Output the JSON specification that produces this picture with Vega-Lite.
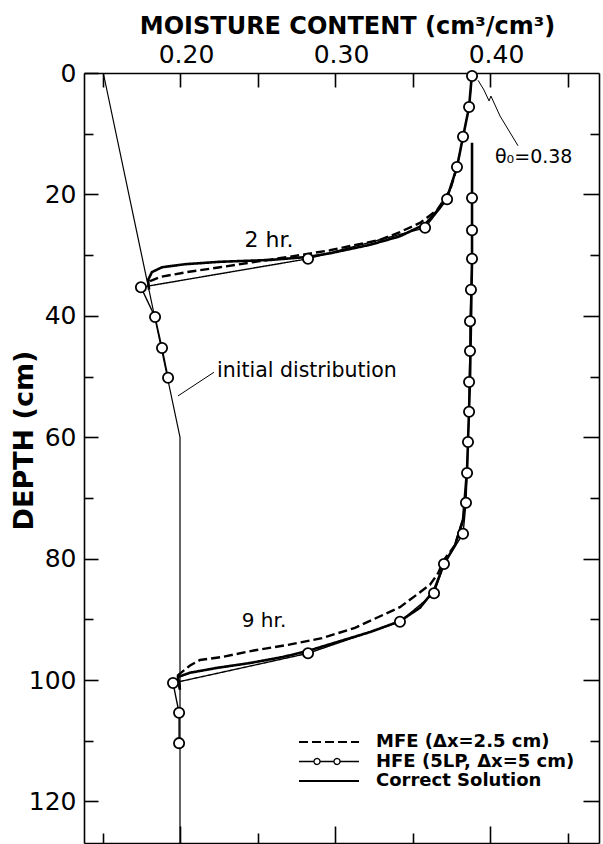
{
  "$schema": "https://vega.github.io/schema/vega-lite/v6.json",
  "width": 515,
  "height": 770,
  "autosize": "none",
  "padding": {"left": 84, "top": 73, "right": 4, "bottom": 1},
  "background": "white",
  "config": {
    "view": {"stroke": null},
    "font": "DejaVu Sans",
    "axis": {"grid": false, "domainColor": "black", "tickColor": "black", "labelColor": "black", "titleColor": "black", "domainWidth": 1.6, "tickWidth": 1.6, "labelFlush": false, "labelOverlap": false},
    "legend": {"title": null, "orient": "none", "legendX": 236, "legendY": 660, "symbolSize": 400, "symbolStrokeWidth": 2, "symbolStrokeColor": "black", "labelFont": "DejaVu Sans", "labelFontSize": 18, "labelFontWeight": "bold", "labelColor": "black", "labelOffset": 38, "labelLimit": 0, "rowPadding": 1.5}
  },
  "datasets": {
    "initial": [
      {"depth": 0, "theta": 0.1505},
      {"depth": 60, "theta": 0.2},
      {"depth": 126.85, "theta": 0.2}
    ],
    "lines": [
      {"kind": "correct", "run": "2 hr", "method": "Correct Solution", "depth": 0.0, "theta": 0.3884},
      {"kind": "correct", "run": "2 hr", "method": "Correct Solution", "depth": 5.6, "theta": 0.3865},
      {"kind": "correct", "run": "2 hr", "method": "Correct Solution", "depth": 10.5, "theta": 0.3826},
      {"kind": "correct", "run": "2 hr", "method": "Correct Solution", "depth": 15.5, "theta": 0.3787},
      {"kind": "correct", "run": "2 hr", "method": "Correct Solution", "depth": 19.6, "theta": 0.3735},
      {"kind": "correct", "run": "2 hr", "method": "Correct Solution", "depth": 22.2, "theta": 0.3677},
      {"kind": "correct", "run": "2 hr", "method": "Correct Solution", "depth": 24.9, "theta": 0.3581},
      {"kind": "correct", "run": "2 hr", "method": "Correct Solution", "depth": 26.9, "theta": 0.3419},
      {"kind": "correct", "run": "2 hr", "method": "Correct Solution", "depth": 28.3, "theta": 0.3226},
      {"kind": "correct", "run": "2 hr", "method": "Correct Solution", "depth": 29.7, "theta": 0.2968},
      {"kind": "correct", "run": "2 hr", "method": "Correct Solution", "depth": 30.3, "theta": 0.2826},
      {"kind": "correct", "run": "2 hr", "method": "Correct Solution", "depth": 30.8, "theta": 0.2581},
      {"kind": "correct", "run": "2 hr", "method": "Correct Solution", "depth": 31.1, "theta": 0.2258},
      {"kind": "correct", "run": "2 hr", "method": "Correct Solution", "depth": 31.5, "theta": 0.2032},
      {"kind": "correct", "run": "2 hr", "method": "Correct Solution", "depth": 32.0, "theta": 0.1884},
      {"kind": "correct", "run": "2 hr", "method": "Correct Solution", "depth": 32.8, "theta": 0.1819},
      {"kind": "correct", "run": "2 hr", "method": "Correct Solution", "depth": 34.1, "theta": 0.1794},
      {"kind": "correct", "run": "2 hr", "method": "Correct Solution", "depth": 35.7, "theta": 0.1800},
      {"kind": "correct", "run": "9 hr", "method": "Correct Solution", "depth": 11.5, "theta": 0.3884},
      {"kind": "correct", "run": "9 hr", "method": "Correct Solution", "depth": 30.8, "theta": 0.3884},
      {"kind": "correct", "run": "9 hr", "method": "Correct Solution", "depth": 50.6, "theta": 0.3871},
      {"kind": "correct", "run": "9 hr", "method": "Correct Solution", "depth": 65.4, "theta": 0.3852},
      {"kind": "correct", "run": "9 hr", "method": "Correct Solution", "depth": 73.6, "theta": 0.3826},
      {"kind": "correct", "run": "9 hr", "method": "Correct Solution", "depth": 77.8, "theta": 0.3774},
      {"kind": "correct", "run": "9 hr", "method": "Correct Solution", "depth": 80.9, "theta": 0.3703},
      {"kind": "correct", "run": "9 hr", "method": "Correct Solution", "depth": 85.2, "theta": 0.3639},
      {"kind": "correct", "run": "9 hr", "method": "Correct Solution", "depth": 88.1, "theta": 0.3548},
      {"kind": "correct", "run": "9 hr", "method": "Correct Solution", "depth": 90.3, "theta": 0.3419},
      {"kind": "correct", "run": "9 hr", "method": "Correct Solution", "depth": 92.1, "theta": 0.3226},
      {"kind": "correct", "run": "9 hr", "method": "Correct Solution", "depth": 93.6, "theta": 0.3032},
      {"kind": "correct", "run": "9 hr", "method": "Correct Solution", "depth": 95.2, "theta": 0.2826},
      {"kind": "correct", "run": "9 hr", "method": "Correct Solution", "depth": 96.2, "theta": 0.2665},
      {"kind": "correct", "run": "9 hr", "method": "Correct Solution", "depth": 97.2, "theta": 0.2452},
      {"kind": "correct", "run": "9 hr", "method": "Correct Solution", "depth": 98.0, "theta": 0.2239},
      {"kind": "correct", "run": "9 hr", "method": "Correct Solution", "depth": 98.8, "theta": 0.2065},
      {"kind": "correct", "run": "9 hr", "method": "Correct Solution", "depth": 99.5, "theta": 0.1987},
      {"kind": "correct", "run": "9 hr", "method": "Correct Solution", "depth": 101.6, "theta": 0.2000},
      {"kind": "mfe", "run": "2 hr", "method": "MFE (Δx=2.5 cm)", "depth": 15.5, "theta": 0.3787},
      {"kind": "mfe", "run": "2 hr", "method": "MFE (Δx=2.5 cm)", "depth": 19.3, "theta": 0.3742},
      {"kind": "mfe", "run": "2 hr", "method": "MFE (Δx=2.5 cm)", "depth": 20.9, "theta": 0.3703},
      {"kind": "mfe", "run": "2 hr", "method": "MFE (Δx=2.5 cm)", "depth": 22.6, "theta": 0.3658},
      {"kind": "mfe", "run": "2 hr", "method": "MFE (Δx=2.5 cm)", "depth": 24.7, "theta": 0.3548},
      {"kind": "mfe", "run": "2 hr", "method": "MFE (Δx=2.5 cm)", "depth": 26.2, "theta": 0.3419},
      {"kind": "mfe", "run": "2 hr", "method": "MFE (Δx=2.5 cm)", "depth": 27.5, "theta": 0.3290},
      {"kind": "mfe", "run": "2 hr", "method": "MFE (Δx=2.5 cm)", "depth": 28.5, "theta": 0.3097},
      {"kind": "mfe", "run": "2 hr", "method": "MFE (Δx=2.5 cm)", "depth": 29.2, "theta": 0.2968},
      {"kind": "mfe", "run": "2 hr", "method": "MFE (Δx=2.5 cm)", "depth": 30.0, "theta": 0.2774},
      {"kind": "mfe", "run": "2 hr", "method": "MFE (Δx=2.5 cm)", "depth": 31.0, "theta": 0.2516},
      {"kind": "mfe", "run": "2 hr", "method": "MFE (Δx=2.5 cm)", "depth": 32.0, "theta": 0.2258},
      {"kind": "mfe", "run": "2 hr", "method": "MFE (Δx=2.5 cm)", "depth": 32.8, "theta": 0.2045},
      {"kind": "mfe", "run": "2 hr", "method": "MFE (Δx=2.5 cm)", "depth": 33.6, "theta": 0.1871},
      {"kind": "mfe", "run": "2 hr", "method": "MFE (Δx=2.5 cm)", "depth": 34.3, "theta": 0.1806},
      {"kind": "mfe", "run": "2 hr", "method": "MFE (Δx=2.5 cm)", "depth": 34.9, "theta": 0.1794},
      {"kind": "mfe", "run": "9 hr", "method": "MFE (Δx=2.5 cm)", "depth": 73.6, "theta": 0.3826},
      {"kind": "mfe", "run": "9 hr", "method": "MFE (Δx=2.5 cm)", "depth": 77.8, "theta": 0.3774},
      {"kind": "mfe", "run": "9 hr", "method": "MFE (Δx=2.5 cm)", "depth": 80.2, "theta": 0.3703},
      {"kind": "mfe", "run": "9 hr", "method": "MFE (Δx=2.5 cm)", "depth": 82.4, "theta": 0.3665},
      {"kind": "mfe", "run": "9 hr", "method": "MFE (Δx=2.5 cm)", "depth": 84.3, "theta": 0.3613},
      {"kind": "mfe", "run": "9 hr", "method": "MFE (Δx=2.5 cm)", "depth": 88.0, "theta": 0.3419},
      {"kind": "mfe", "run": "9 hr", "method": "MFE (Δx=2.5 cm)", "depth": 91.4, "theta": 0.3129},
      {"kind": "mfe", "run": "9 hr", "method": "MFE (Δx=2.5 cm)", "depth": 93.1, "theta": 0.2916},
      {"kind": "mfe", "run": "9 hr", "method": "MFE (Δx=2.5 cm)", "depth": 94.2, "theta": 0.2697},
      {"kind": "mfe", "run": "9 hr", "method": "MFE (Δx=2.5 cm)", "depth": 95.1, "theta": 0.2484},
      {"kind": "mfe", "run": "9 hr", "method": "MFE (Δx=2.5 cm)", "depth": 96.2, "theta": 0.2271},
      {"kind": "mfe", "run": "9 hr", "method": "MFE (Δx=2.5 cm)", "depth": 96.7, "theta": 0.2129},
      {"kind": "mfe", "run": "9 hr", "method": "MFE (Δx=2.5 cm)", "depth": 97.6, "theta": 0.2065},
      {"kind": "mfe", "run": "9 hr", "method": "MFE (Δx=2.5 cm)", "depth": 99.2, "theta": 0.1987},
      {"kind": "mfe", "run": "9 hr", "method": "MFE (Δx=2.5 cm)", "depth": 101.6, "theta": 0.2000},
      {"kind": "hfe", "run": "2 hr", "method": "HFE (5LP, Δx=5 cm)", "depth": 0.5, "theta": 0.3884},
      {"kind": "hfe", "run": "2 hr", "method": "HFE (5LP, Δx=5 cm)", "depth": 5.6, "theta": 0.3865},
      {"kind": "hfe", "run": "2 hr", "method": "HFE (5LP, Δx=5 cm)", "depth": 10.5, "theta": 0.3826},
      {"kind": "hfe", "run": "2 hr", "method": "HFE (5LP, Δx=5 cm)", "depth": 15.5, "theta": 0.3787},
      {"kind": "hfe", "run": "2 hr", "method": "HFE (5LP, Δx=5 cm)", "depth": 20.8, "theta": 0.3723},
      {"kind": "hfe", "run": "2 hr", "method": "HFE (5LP, Δx=5 cm)", "depth": 25.5, "theta": 0.3581},
      {"kind": "hfe", "run": "2 hr", "method": "HFE (5LP, Δx=5 cm)", "depth": 30.6, "theta": 0.2826},
      {"kind": "hfe", "run": "2 hr", "method": "HFE (5LP, Δx=5 cm)", "depth": 35.3, "theta": 0.1748},
      {"kind": "hfe", "run": "2 hr", "method": "HFE (5LP, Δx=5 cm)", "depth": 40.2, "theta": 0.1839},
      {"kind": "hfe", "run": "2 hr", "method": "HFE (5LP, Δx=5 cm)", "depth": 45.3, "theta": 0.1884},
      {"kind": "hfe", "run": "2 hr", "method": "HFE (5LP, Δx=5 cm)", "depth": 50.2, "theta": 0.1923},
      {"kind": "hfe", "run": "9 hr", "method": "HFE (5LP, Δx=5 cm)", "depth": 20.6, "theta": 0.3884},
      {"kind": "hfe", "run": "9 hr", "method": "HFE (5LP, Δx=5 cm)", "depth": 25.9, "theta": 0.3884},
      {"kind": "hfe", "run": "9 hr", "method": "HFE (5LP, Δx=5 cm)", "depth": 30.6, "theta": 0.3884},
      {"kind": "hfe", "run": "9 hr", "method": "HFE (5LP, Δx=5 cm)", "depth": 35.7, "theta": 0.3877},
      {"kind": "hfe", "run": "9 hr", "method": "HFE (5LP, Δx=5 cm)", "depth": 40.9, "theta": 0.3871},
      {"kind": "hfe", "run": "9 hr", "method": "HFE (5LP, Δx=5 cm)", "depth": 45.8, "theta": 0.3871},
      {"kind": "hfe", "run": "9 hr", "method": "HFE (5LP, Δx=5 cm)", "depth": 50.9, "theta": 0.3865},
      {"kind": "hfe", "run": "9 hr", "method": "HFE (5LP, Δx=5 cm)", "depth": 55.8, "theta": 0.3865},
      {"kind": "hfe", "run": "9 hr", "method": "HFE (5LP, Δx=5 cm)", "depth": 60.8, "theta": 0.3858},
      {"kind": "hfe", "run": "9 hr", "method": "HFE (5LP, Δx=5 cm)", "depth": 65.9, "theta": 0.3852},
      {"kind": "hfe", "run": "9 hr", "method": "HFE (5LP, Δx=5 cm)", "depth": 70.8, "theta": 0.3845},
      {"kind": "hfe", "run": "9 hr", "method": "HFE (5LP, Δx=5 cm)", "depth": 75.9, "theta": 0.3826},
      {"kind": "hfe", "run": "9 hr", "method": "HFE (5LP, Δx=5 cm)", "depth": 80.9, "theta": 0.3703},
      {"kind": "hfe", "run": "9 hr", "method": "HFE (5LP, Δx=5 cm)", "depth": 85.7, "theta": 0.3639},
      {"kind": "hfe", "run": "9 hr", "method": "HFE (5LP, Δx=5 cm)", "depth": 90.4, "theta": 0.3419},
      {"kind": "hfe", "run": "9 hr", "method": "HFE (5LP, Δx=5 cm)", "depth": 95.6, "theta": 0.2826},
      {"kind": "hfe", "run": "9 hr", "method": "HFE (5LP, Δx=5 cm)", "depth": 100.5, "theta": 0.1955},
      {"kind": "hfe", "run": "9 hr", "method": "HFE (5LP, Δx=5 cm)", "depth": 105.4, "theta": 0.1994},
      {"kind": "hfe", "run": "9 hr", "method": "HFE (5LP, Δx=5 cm)", "depth": 110.4, "theta": 0.1994}
    ],
    "arrows": [
      {"arrow": "init", "depth": 49.3, "theta": 0.2219},
      {"arrow": "init", "depth": 53.2, "theta": 0.1987},
      {"arrow": "theta0", "depth": 12.0, "theta": 0.4181},
      {"arrow": "theta0", "depth": 7.1, "theta": 0.4065},
      {"arrow": "theta0", "depth": 4.6, "theta": 0.3994},
      {"arrow": "theta0", "depth": 3.8, "theta": 0.4006},
      {"arrow": "theta0", "depth": 2.8, "theta": 0.3961},
      {"arrow": "theta0", "depth": 1.2, "theta": 0.3923}
    ]
  },
  "layer": [
    {
      "data": {"name": "initial"},
      "mark": {"type": "line", "color": "black", "strokeWidth": 1.2},
      "encoding": {
        "x": {"field": "theta", "type": "quantitative", "scale": {"domain": [0.13806, 0.47032], "nice": false, "zero": false},
          "axis": {"orient": "top", "values": [0.15, 0.2, 0.25, 0.3, 0.35, 0.4, 0.45], "tickSize": -14, "labelPadding": 20, "labelOffset": 6, "labelFontSize": 25, "labelFont": "DejaVu Sans",
            "labelExpr": "datum.value == 0.2 || datum.value == 0.3 || datum.value == 0.4 ? format(datum.value, '.2f') : ''",
            "title": "MOISTURE CONTENT (cm³/cm³)", "titleFont": "DejaVu Sans", "titleFontSize": 24, "titleFontWeight": "bold", "titleX": 263, "titleY": -40, "titleBaseline": "alphabetic", "titleAlign": "center"}},
        "y": {"field": "depth", "type": "quantitative", "scale": {"domain": [0, 126.85], "nice": false, "zero": false, "reverse": true},
          "axis": {"orient": "left", "values": [0, 20, 40, 60, 80, 100, 120], "tickSize": -14, "labelPadding": 22, "labelFontSize": 25, "labelFont": "DejaVu Sans", "labelBaseline": "middle",
            "title": "DEPTH (cm)", "titleFont": "DejaVu Sans", "titleFontSize": 27, "titleFontWeight": "bold", "titleX": -52, "titleY": 367, "titleAngle": 270, "titleBaseline": "alphabetic", "titleAlign": "center"}},
        "order": {"field": "depth", "type": "quantitative"}
      }
    },
    {
      "data": {"name": "lines"},
      "transform": [{"filter": "datum.kind == 'correct'"}],
      "mark": {"type": "line", "color": "black", "strokeWidth": 2.6},
      "encoding": {
        "x": {"field": "theta", "type": "quantitative", "scale": {"domain": [0.13806, 0.47032], "nice": false, "zero": false},
          "axis": {"orient": "bottom", "values": [0.2, 0.3, 0.4], "tickSize": -17, "labels": false, "title": null, "domain": true}},
        "y": {"field": "depth", "type": "quantitative", "scale": {"domain": [0, 126.85], "nice": false, "zero": false, "reverse": true},
          "axis": {"orient": "left", "values": [10, 30, 50, 70, 90, 110], "tickSize": -9, "labels": false, "title": null, "domain": false}},
        "detail": {"field": "run"},
        "order": {"field": "depth", "type": "quantitative"},
        "strokeDash": {"field": "method", "type": "nominal",
          "scale": {"domain": ["MFE (Δx=2.5 cm)", "HFE (5LP, Δx=5 cm)", "Correct Solution"], "range": [[9, 4], [1, 0], [1, 0]]},
          "legend": {"encode": {"symbols": {"update": {
            "shape": {"signal": "datum.value == 'HFE (5LP, Δx=5 cm)' ? 'M-3,0L-1.5,0M-0.9,0L0.5,0M1.1,0L3,0M-0.9,0A0.3,0.3,0,1,1,-1.5,0A0.3,0.3,0,1,1,-0.9,0M1.1,0A0.3,0.3,0,1,1,0.5,0A0.3,0.3,0,1,1,1.1,0' : 'M-3,0L3,0'"},
            "stroke": {"value": "black"},
            "strokeWidth": {"signal": "datum.value == 'HFE (5LP, Δx=5 cm)' ? 1.3 : 2"},
            "fill": {"value": "transparent"},
            "opacity": {"value": 1}}}}}}
      }
    },
    {
      "data": {"name": "lines"},
      "transform": [{"filter": "datum.kind == 'mfe'"}],
      "mark": {"type": "line", "color": "black", "strokeWidth": 2.4},
      "encoding": {
        "x": {"field": "theta", "type": "quantitative", "scale": {"domain": [0.13806, 0.47032], "nice": false, "zero": false},
          "axis": {"orient": "bottom", "values": [0.15, 0.25, 0.35, 0.45], "tickSize": -10, "labels": false, "title": null, "domain": false}},
        "y": {"field": "depth", "type": "quantitative", "scale": {"domain": [0, 126.85], "nice": false, "zero": false, "reverse": true},
          "axis": {"orient": "right", "values": [20, 40, 60, 80, 100, 120], "tickSize": -16, "labels": false, "title": null, "domain": true}},
        "detail": {"field": "run"},
        "order": {"field": "depth", "type": "quantitative"},
        "strokeDash": {"field": "method", "type": "nominal",
          "scale": {"domain": ["MFE (Δx=2.5 cm)", "HFE (5LP, Δx=5 cm)", "Correct Solution"], "range": [[9, 4], [1, 0], [1, 0]]},
          "legend": {"encode": {"symbols": {"update": {
            "shape": {"signal": "datum.value == 'HFE (5LP, Δx=5 cm)' ? 'M-3,0L-1.5,0M-0.9,0L0.5,0M1.1,0L3,0M-0.9,0A0.3,0.3,0,1,1,-1.5,0A0.3,0.3,0,1,1,-0.9,0M1.1,0A0.3,0.3,0,1,1,0.5,0A0.3,0.3,0,1,1,1.1,0' : 'M-3,0L3,0'"},
            "stroke": {"value": "black"},
            "strokeWidth": {"signal": "datum.value == 'HFE (5LP, Δx=5 cm)' ? 1.3 : 2"},
            "fill": {"value": "transparent"},
            "opacity": {"value": 1}}}}}}
      }
    },
    {
      "data": {"name": "lines"},
      "transform": [{"filter": "datum.kind == 'hfe'"}],
      "mark": {"type": "line", "color": "black", "strokeWidth": 1.4},
      "encoding": {
        "x": {"field": "theta", "type": "quantitative", "scale": {"domain": [0.13806, 0.47032], "nice": false, "zero": false}, "axis": null},
        "y": {"field": "depth", "type": "quantitative", "scale": {"domain": [0, 126.85], "nice": false, "zero": false, "reverse": true},
          "axis": {"orient": "right", "values": [10, 30, 50, 70, 90, 110], "tickSize": -9, "labels": false, "title": null, "domain": false}},
        "detail": {"field": "run"},
        "order": {"field": "depth", "type": "quantitative"},
        "strokeDash": {"field": "method", "type": "nominal",
          "scale": {"domain": ["MFE (Δx=2.5 cm)", "HFE (5LP, Δx=5 cm)", "Correct Solution"], "range": [[9, 4], [1, 0], [1, 0]]},
          "legend": {"encode": {"symbols": {"update": {
            "shape": {"signal": "datum.value == 'HFE (5LP, Δx=5 cm)' ? 'M-3,0L-1.5,0M-0.9,0L0.5,0M1.1,0L3,0M-0.9,0A0.3,0.3,0,1,1,-1.5,0A0.3,0.3,0,1,1,-0.9,0M1.1,0A0.3,0.3,0,1,1,0.5,0A0.3,0.3,0,1,1,1.1,0' : 'M-3,0L3,0'"},
            "stroke": {"value": "black"},
            "strokeWidth": {"signal": "datum.value == 'HFE (5LP, Δx=5 cm)' ? 1.3 : 2"},
            "fill": {"value": "transparent"},
            "opacity": {"value": 1}}}}}}
      }
    },
    {
      "data": {"name": "lines"},
      "transform": [{"filter": "datum.kind == 'hfe'"}],
      "mark": {"type": "point", "shape": "circle", "filled": true, "fill": "white", "stroke": "black", "strokeWidth": 1.8, "size": 105, "opacity": 1},
      "encoding": {
        "x": {"field": "theta", "type": "quantitative", "scale": {"domain": [0.13806, 0.47032], "nice": false, "zero": false}, "axis": null},
        "y": {"field": "depth", "type": "quantitative", "scale": {"domain": [0, 126.85], "nice": false, "zero": false, "reverse": true}, "axis": null}
      }
    },
    {
      "data": {"name": "arrows"},
      "mark": {"type": "line", "color": "black", "strokeWidth": 1},
      "encoding": {
        "x": {"field": "theta", "type": "quantitative", "scale": {"domain": [0.13806, 0.47032], "nice": false, "zero": false}, "axis": null},
        "y": {"field": "depth", "type": "quantitative", "scale": {"domain": [0, 126.85], "nice": false, "zero": false, "reverse": true}, "axis": null},
        "detail": {"field": "arrow"}
      }
    },
    {
      "data": {"values": [{"label": "2 hr.", "theta": 0.2574, "depth": 28.7}]},
      "mark": {"type": "text", "font": "DejaVu Sans", "fontSize": 22, "align": "center", "baseline": "alphabetic", "color": "black"},
      "encoding": {
        "x": {"field": "theta", "type": "quantitative", "scale": {"domain": [0.13806, 0.47032], "nice": false, "zero": false}, "axis": null},
        "y": {"field": "depth", "type": "quantitative", "scale": {"domain": [0, 126.85], "nice": false, "zero": false, "reverse": true}, "axis": null},
        "text": {"field": "label"}
      }
    },
    {
      "data": {"values": [{"label": "9 hr.", "theta": 0.2542, "depth": 91.3}]},
      "mark": {"type": "text", "font": "DejaVu Sans", "fontSize": 20, "align": "center", "baseline": "alphabetic", "color": "black"},
      "encoding": {
        "x": {"field": "theta", "type": "quantitative", "scale": {"domain": [0.13806, 0.47032], "nice": false, "zero": false}, "axis": null},
        "y": {"field": "depth", "type": "quantitative", "scale": {"domain": [0, 126.85], "nice": false, "zero": false, "reverse": true}, "axis": null},
        "text": {"field": "label"}
      }
    },
    {
      "data": {"values": [{"label": "initial distribution", "theta": 0.2239, "depth": 50.1}]},
      "mark": {"type": "text", "font": "DejaVu Sans", "fontSize": 20.5, "align": "left", "baseline": "alphabetic", "color": "black"},
      "encoding": {
        "x": {"field": "theta", "type": "quantitative", "scale": {"domain": [0.13806, 0.47032], "nice": false, "zero": false}, "axis": null},
        "y": {"field": "depth", "type": "quantitative", "scale": {"domain": [0, 126.85], "nice": false, "zero": false, "reverse": true}, "axis": null},
        "text": {"field": "label"}
      }
    },
    {
      "data": {"values": [{"label": "θ₀=0.38", "theta": 0.4032, "depth": 14.8}]},
      "mark": {"type": "text", "font": "DejaVu Sans", "fontSize": 19, "align": "left", "baseline": "alphabetic", "color": "black"},
      "encoding": {
        "x": {"field": "theta", "type": "quantitative", "scale": {"domain": [0.13806, 0.47032], "nice": false, "zero": false}, "axis": null},
        "y": {"field": "depth", "type": "quantitative", "scale": {"domain": [0, 126.85], "nice": false, "zero": false, "reverse": true}, "axis": null},
        "text": {"field": "label"}
      }
    }
  ],
  "resolve": {"axis": {"x": "independent", "y": "independent"}, "scale": {"x": "shared", "y": "shared", "strokeDash": "shared"}}
}
